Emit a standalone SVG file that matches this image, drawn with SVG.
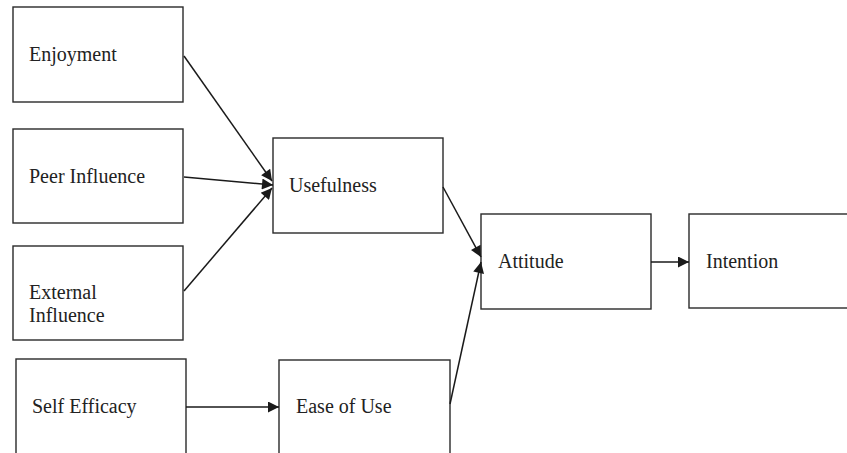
<svg xmlns="http://www.w3.org/2000/svg" width="847" height="453" viewBox="0 0 847 453">
<defs>
<marker id="ah" viewBox="0 0 10 10" refX="10" refY="5" markerWidth="13" markerHeight="11" markerUnits="userSpaceOnUse" orient="auto">
<path d="M0,0 L10,5 L0,10 z" fill="#1a1a1a"/>
</marker>
</defs>
<style>
.box{fill:#fff;stroke:#2a2a2a;stroke-width:1.4}
.lbl{font-family:"Liberation Serif","Times New Roman",serif;font-size:20px;fill:#222}
.con{stroke:#1a1a1a;stroke-width:1.5;fill:none;marker-end:url(#ah)}
</style>
<rect width="847" height="453" fill="#fff"/>
<g id="enjoyment"><rect class="box" x="13" y="7" width="170" height="95"/><text class="lbl" x="29" y="61">Enjoyment</text></g>
<g id="peer"><rect class="box" x="13" y="129" width="170" height="94"/><text class="lbl" x="29" y="183">Peer Influence</text></g>
<g id="external"><rect class="box" x="13" y="246" width="170" height="94"/><text class="lbl" x="29" y="299">External</text><text class="lbl" x="29" y="322">Influence</text></g>
<g id="selfefficacy"><rect class="box" x="16" y="359" width="170" height="110"/><text class="lbl" x="32" y="413">Self Efficacy</text></g>
<g id="usefulness"><rect class="box" x="273" y="138" width="170" height="95"/><text class="lbl" x="289" y="192">Usefulness</text></g>
<g id="easeofuse"><rect class="box" x="279" y="360" width="171" height="110"/><text class="lbl" x="296" y="413">Ease of Use</text></g>
<g id="attitude"><rect class="box" x="481" y="214" width="170" height="95"/><text class="lbl" x="498" y="268">Attitude</text></g>
<g id="intention"><rect class="box" x="689" y="214" width="180" height="94"/><text class="lbl" x="706" y="268">Intention</text></g>
<g id="connectors">
<line class="con" x1="184" y1="56" x2="272" y2="181"/>
<line class="con" x1="184" y1="177" x2="273" y2="185"/>
<line class="con" x1="184" y1="291" x2="272" y2="188"/>
<line class="con" x1="186" y1="407" x2="279" y2="407"/>
<line class="con" x1="443" y1="187" x2="481" y2="257"/>
<line class="con" x1="450" y1="404" x2="481" y2="262"/>
<line class="con" x1="651" y1="262" x2="689" y2="262"/>
</g>
</svg>
